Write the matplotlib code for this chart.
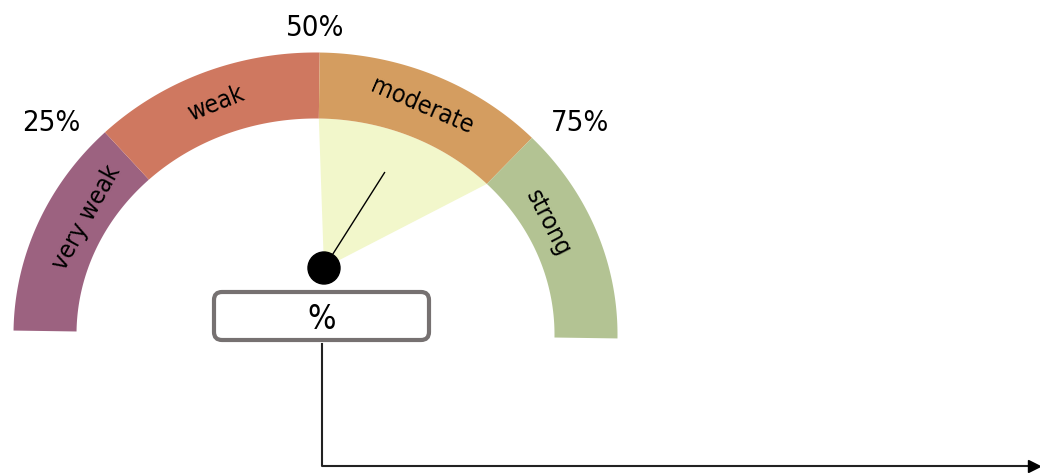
import numpy as np
import matplotlib
matplotlib.use('Agg')
import matplotlib.pyplot as plt
from matplotlib.patches import FancyBboxPatch, Ellipse

# Data gauge
bands = ['very weak', 'weak', 'moderate', 'strong']
band_sizes = [25, 25, 25, 25]
band_colors = ['#9C6280', '#CF7860', '#D49D60', '#B3C393']
tick_values = [25, 50, 75]
tick_labels = ['25%', '50%', '75%']
needle_value = 68
highlight_band = 'moderate'
value_text = '%'

# Layout (pixel space)
cx, cy = 315.5, 334.5
rx_out, ry_out = 302, 282
rx_in, ry_in = 239, 216
rot = -0.8
pivot = (324, 268)
needle_len = 113
label_shift = [-3.2, 0, 0, 3.2]
label_r = [0.97, 1.0, 1.0, 0.97]
tick_rx, tick_ry = 1.1, 1.06

font = dict(family='DejaVu Sans', stretch='condensed')


def ang(v):
    return np.radians(180 - 1.8 * v + rot)


def arc(v0, v1, rx, ry, n=120):
    t = np.linspace(ang(v0), ang(v1), n)
    return cx + rx * np.cos(t), cy - ry * np.sin(t)


fig = plt.figure(figsize=(10.4, 4.73), dpi=100)
ax = fig.add_axes([0, 0, 1, 1])
ax.set_xlim(0, 1040)
ax.set_ylim(473, 0)
ax.axis('off')

# Highlight wedge dari pivot
edges = np.cumsum([0] + band_sizes)
i = bands.index(highlight_band)
hx, hy = arc(edges[i], edges[i + 1], rx_in, ry_in)
ax.fill(np.r_[pivot[0], hx], np.r_[pivot[1], hy], color='#F2F7CB', lw=0, zorder=1)

# Ring segments
for k, (name, v0, v1, col) in enumerate(zip(bands, edges[:-1], edges[1:], band_colors)):
    ox, oy = arc(v0, v1, rx_out, ry_out)
    ix, iy = arc(v1, v0, rx_in, ry_in)
    ax.fill(np.r_[ox, ix], np.r_[oy, iy], color=col, lw=0, zorder=2)
    t = ang((v0 + v1) / 2 - label_shift[k])
    r = label_r[k]
    tx = cx + r * (rx_out + rx_in) / 2 * np.cos(t)
    ty = cy - r * (ry_out + ry_in) / 2 * np.sin(t)
    ax.text(tx, ty, name, rotation=np.degrees(t) - 90, ha='center', va='center',
            fontsize=18, zorder=3, rotation_mode='anchor', **font)

# Tick labels
for v, lab in zip(tick_values, tick_labels):
    t = np.radians(180 - 1.8 * v)
    tx = cx + tick_rx * rx_out * np.cos(t)
    ty = cy - tick_ry * ry_out * np.sin(t)
    if v == 50:
        ha, va = 'center', 'baseline'
    else:
        ha, va = ('right' if v < 50 else 'left'), 'center'
    ax.text(tx, ty, lab, ha=ha, va=va, fontsize=21, **font)

# Needle
t = np.radians(180 - 1.8 * needle_value)
ax.plot([pivot[0], pivot[0] + needle_len * np.cos(t)],
        [pivot[1], pivot[1] - needle_len * np.sin(t)], color='black', lw=1, zorder=4)
ax.add_patch(Ellipse(pivot, 32, 32, color='black', zorder=5))

# Value box
box = FancyBboxPatch((214, 292), 215, 48, boxstyle='round,pad=0,rounding_size=8',
                     facecolor='white', edgecolor='#767171', lw=3, zorder=5)
ax.add_patch(box)
ax.text(322, 319, value_text, ha='center', va='center', fontsize=24, zorder=6, **font)

# Connector
ax.plot([322, 322, 1032], [344, 466, 466], color='#222222', lw=1.5, zorder=1)
ax.plot([1034], [466], marker='>', color='black', markersize=9, zorder=1, clip_on=False)

fig.savefig('out.png', dpi=100)
